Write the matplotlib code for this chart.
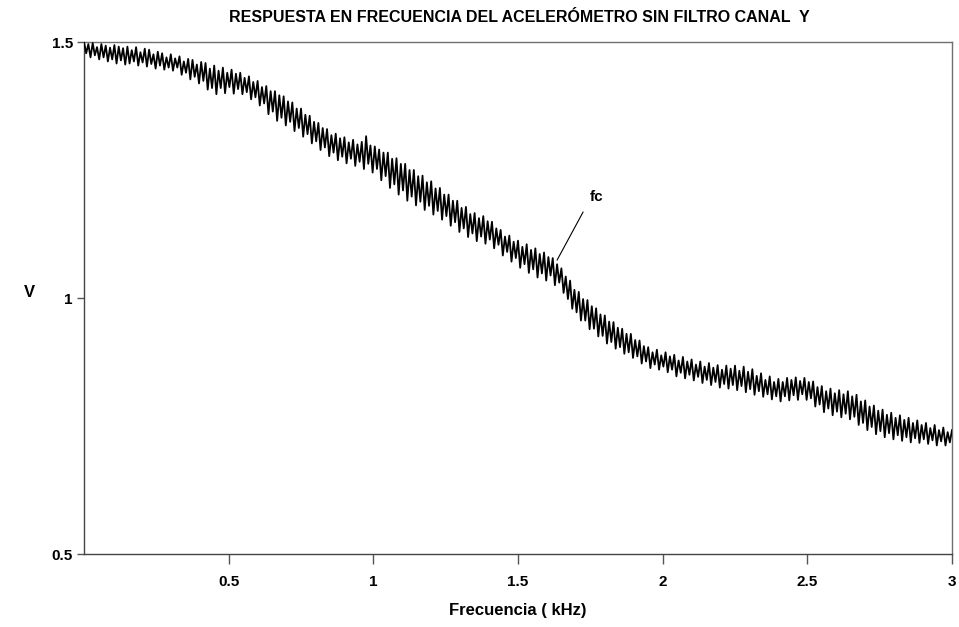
import matplotlib
matplotlib.use("Agg")
import matplotlib.pyplot as plt

# Local maxima of the noisy trace (every 0.015 kHz from 0)
peak_khz_start, peak_khz_step = 0.0, 0.015
peaks = [
    1.500, 1.496, 1.498, 1.490, 1.496, 1.493, 1.489, 1.494, 1.491, 1.488,
    1.491, 1.484, 1.490, 1.480, 1.487, 1.485, 1.476, 1.481, 1.478, 1.470,
    1.476, 1.468, 1.472, 1.462, 1.467, 1.465, 1.456, 1.461, 1.459, 1.448,
    1.454, 1.444, 1.450, 1.440, 1.446, 1.438, 1.440, 1.430, 1.433, 1.422,
    1.424, 1.412, 1.414, 1.404, 1.404, 1.396, 1.394, 1.384, 1.382, 1.370,
    1.370, 1.358, 1.356, 1.344, 1.342, 1.332, 1.330, 1.318, 1.321, 1.312,
    1.314, 1.304, 1.309, 1.300, 1.305, 1.316, 1.298, 1.296, 1.290, 1.284,
    1.284, 1.272, 1.273, 1.262, 1.262, 1.250, 1.250, 1.238, 1.239, 1.226,
    1.228, 1.214, 1.215, 1.202, 1.202, 1.190, 1.190, 1.176, 1.178, 1.164,
    1.166, 1.156, 1.160, 1.150, 1.149, 1.136, 1.133, 1.120, 1.122, 1.110,
    1.112, 1.100, 1.105, 1.094, 1.097, 1.086, 1.089, 1.080, 1.078, 1.066,
    1.058, 1.042, 1.034, 1.016, 1.012, 0.998, 0.996, 0.984, 0.980, 0.968,
    0.966, 0.954, 0.953, 0.942, 0.940, 0.930, 0.930, 0.918, 0.917, 0.906,
    0.904, 0.894, 0.899, 0.888, 0.894, 0.886, 0.889, 0.878, 0.885, 0.876,
    0.880, 0.870, 0.876, 0.866, 0.873, 0.864, 0.869, 0.860, 0.868, 0.862,
    0.868, 0.858, 0.866, 0.856, 0.861, 0.848, 0.853, 0.840, 0.847, 0.836,
    0.842, 0.836, 0.844, 0.840, 0.845, 0.838, 0.844, 0.836, 0.837, 0.826,
    0.828, 0.818, 0.823, 0.814, 0.820, 0.812, 0.818, 0.808, 0.811, 0.798,
    0.800, 0.788, 0.790, 0.780, 0.782, 0.772, 0.776, 0.766, 0.771, 0.762,
    0.766, 0.756, 0.761, 0.752, 0.756, 0.746, 0.752, 0.742, 0.747, 0.738,
    0.742,
]
# local minima of the trace (every 0.015 kHz from 0.0075)
trough_khz_start, trough_khz_step = 0.0075, 0.015
troughs = [
    1.478, 1.470, 1.474, 1.466, 1.470, 1.462, 1.466, 1.458, 1.464, 1.456,
    1.458, 1.462, 1.454, 1.460, 1.452, 1.457, 1.448, 1.454, 1.446, 1.450,
    1.444, 1.450, 1.436, 1.440, 1.427, 1.432, 1.419, 1.424, 1.407, 1.410,
    1.398, 1.410, 1.400, 1.412, 1.399, 1.408, 1.398, 1.402, 1.388, 1.392,
    1.376, 1.380, 1.359, 1.364, 1.346, 1.352, 1.337, 1.344, 1.326, 1.332,
    1.315, 1.320, 1.302, 1.306, 1.289, 1.294, 1.277, 1.284, 1.269, 1.276,
    1.263, 1.272, 1.258, 1.266, 1.252, 1.262, 1.245, 1.252, 1.230, 1.238,
    1.215, 1.222, 1.202, 1.210, 1.190, 1.198, 1.181, 1.188, 1.172, 1.180,
    1.163, 1.170, 1.153, 1.160, 1.141, 1.148, 1.129, 1.136, 1.119, 1.126,
    1.111, 1.120, 1.106, 1.114, 1.097, 1.104, 1.083, 1.090, 1.071, 1.078,
    1.059, 1.066, 1.049, 1.056, 1.040, 1.048, 1.034, 1.044, 1.025, 1.030,
    1.010, 0.998, 0.979, 0.972, 0.956, 0.956, 0.939, 0.940, 0.925, 0.926,
    0.911, 0.914, 0.901, 0.904, 0.891, 0.894, 0.883, 0.886, 0.872, 0.876,
    0.863, 0.870, 0.860, 0.866, 0.855, 0.860, 0.847, 0.854, 0.843, 0.850,
    0.839, 0.846, 0.834, 0.840, 0.830, 0.836, 0.825, 0.832, 0.823, 0.830,
    0.820, 0.828, 0.816, 0.822, 0.811, 0.818, 0.807, 0.812, 0.802, 0.808,
    0.798, 0.808, 0.800, 0.810, 0.801, 0.812, 0.801, 0.804, 0.788, 0.792,
    0.777, 0.784, 0.771, 0.778, 0.767, 0.774, 0.763, 0.768, 0.752, 0.756,
    0.742, 0.748, 0.734, 0.740, 0.728, 0.736, 0.724, 0.732, 0.721, 0.728,
    0.718, 0.726, 0.717, 0.724, 0.715, 0.722, 0.712, 0.720, 0.712, 0.718,
]

x_ticks = [0.5, 1, 1.5, 2, 2.5, 3]
x_tick_labels = ["0.5", "1", "1.5", "2", "2.5", "3"]
y_ticks = [0.5, 1, 1.5]
y_tick_labels = ["0.5", "1", "1.5"]
title = "RESPUESTA EN FRECUENCIA DEL ACELERÓMETRO SIN FILTRO CANAL  Y"
xlabel = "Frecuencia ( kHz)"
ylabel = "V"
fc_label = "fc"
fc_text_pos = (1.773, 1.197)
fc_point = (1.635, 1.074)
fc_line_start = (1.725, 1.168)

# interleave the two read-off lists into one trace
px = [peak_khz_start + i * peak_khz_step for i in range(len(peaks))]
tx = [trough_khz_start + i * trough_khz_step for i in range(len(troughs))]
pts = sorted(list(zip(px, peaks)) + list(zip(tx, troughs)))
freq = [p[0] for p in pts]
volts = [p[1] for p in pts]

plt.rcParams["font.family"] = ["Liberation Sans", "DejaVu Sans"]

fig = plt.figure(figsize=(9.59, 6.27), dpi=100)
ax = fig.add_axes([0.0876, 0.1164, 0.9051, 0.8166])
ax.plot(freq, volts, color="black", lw=1.3, zorder=3)
ax.set_xlim(0, 3)
ax.set_ylim(0.5, 1.5)
ax.set_xticks(x_ticks)
ax.set_xticklabels(x_tick_labels, fontsize=11, fontweight="bold")
ax.set_yticks(y_ticks)
ax.set_yticklabels(y_tick_labels, fontsize=11, fontweight="bold")
ax.tick_params(axis="x", direction="out", length=7, width=1, color="#555555", pad=8)
ax.tick_params(axis="y", direction="out", length=5, width=1, color="#555555", pad=3)
for s in ax.spines.values():
    s.set_color("#707070")
    s.set_linewidth(1)
ax.spines["left"].set_color("#444444")
ax.spines["bottom"].set_color("#444444")

fig.text(0.542, 0.972, title, ha="center", va="center", fontsize=11.5, fontweight="bold")
ax.set_xlabel(xlabel, fontsize=12, fontweight="bold", labelpad=10)
fig.text(0.031, 0.534, ylabel, ha="center", va="center", fontsize=12, fontweight="bold")

ax.text(fc_text_pos[0], fc_text_pos[1], fc_label, ha="center", va="center", fontsize=11, fontweight="bold")
ax.annotate("", xy=fc_point, xytext=fc_line_start,
            arrowprops=dict(arrowstyle="-", color="black", lw=0.8, shrinkA=0, shrinkB=0))

fig.savefig("out.png", dpi=100)
